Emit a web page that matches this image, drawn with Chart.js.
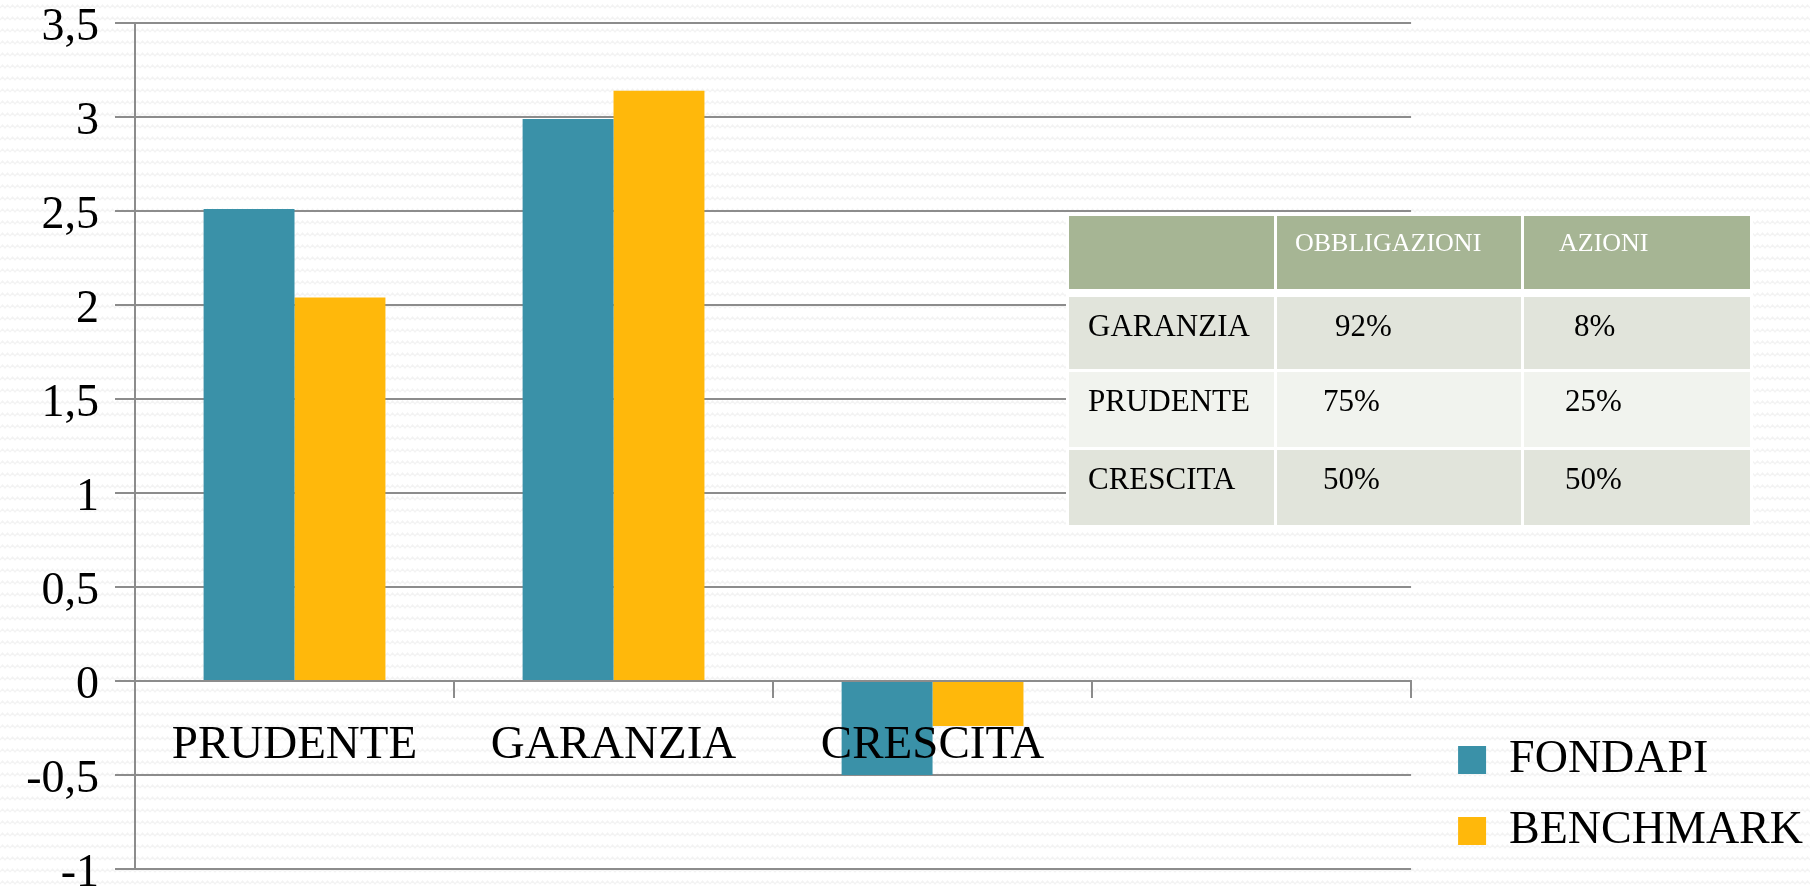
<!DOCTYPE html>
<html>
<head>
<meta charset="utf-8">
<script src="https://cdn.jsdelivr.net/npm/chart.js@4.4.1/dist/chart.umd.min.js"></script>
<style>
  html, body { margin: 0; padding: 0; }
  body {
    width: 1810px; height: 887px; overflow: hidden; position: relative;
    background-color: #ffffff;
    background-image: url("data:image/svg+xml;utf8,<svg xmlns='http://www.w3.org/2000/svg' width='10' height='12'><polyline points='0,8 2.5,5 5,8 7.5,5 10,8' fill='none' stroke='%23f3f3f3' stroke-width='1.2'/></svg>");
  }
  #chart { position: absolute; left: 0; top: 0; }
  #mix {
    position: absolute; left: 1066px; top: 213px;
    border-collapse: collapse; font-family: "Liberation Serif", serif;
  }
  #mix td { border: 3px solid #ffffff; vertical-align: top; padding: 0; box-sizing: border-box; }
  #mix tr.head td { background: #a6b594; color: #ffffff; font-size: 26px; height: 78px; padding-top: 12px; border-bottom-width: 8px; }
  #mix tr.r1 td { background: #e1e4db; }
  #mix tr.r2 td { background: #f1f3ee; }
  #mix tr.body td { font-size: 31px; color: #000; height: 78px; padding-top: 11px; }
</style>
</head>
<body>
<canvas id="chart" width="1810" height="887"></canvas>
<table id="mix"></table>
<script>
// chart data
const categories = ["PRUDENTE", "GARANZIA", "CRESCITA", ""];
const fondapi = [2.51, 2.99, -0.5, null];
const benchmark = [2.04, 3.14, -0.24, null];
const seriesNames = ["FONDAPI", "BENCHMARK"];
const yTickValues = [-1, -0.5, 0, 0.5, 1, 1.5, 2, 2.5, 3, 3.5];

// allocation table
const tableHeader = ["", "OBBLIGAZIONI", "AZIONI"];
const tableRows = [
  ["GARANZIA", "92%", "8%"],
  ["PRUDENTE", "75%", "25%"],
  ["CRESCITA", "50%", "50%"]
];

const colWidths = [208, 247, 229];
// left indents of the text in each cell (header first)
const cellIndent = [[19, 18, 35], [19, 58, 50], [19, 46, 41], [19, 46, 41]];

function renderTable() {
  const table = document.getElementById("mix");
  const head = document.createElement("tr");
  head.className = "head";
  tableHeader.forEach((txt, i) => {
    const td = document.createElement("td");
    td.style.width = colWidths[i] + "px";
    td.style.paddingLeft = cellIndent[0][i] + "px";
    td.textContent = txt;
    head.appendChild(td);
  });
  table.appendChild(head);
  tableRows.forEach((row, r) => {
    const tr = document.createElement("tr");
    tr.className = "body " + (r % 2 === 0 ? "r1" : "r2");
    row.forEach((txt, i) => {
      const td = document.createElement("td");
      td.style.width = colWidths[i] + "px";
      td.style.paddingLeft = cellIndent[r + 1][i] + "px";
      td.textContent = txt;
      tr.appendChild(td);
    });
    table.appendChild(tr);
  });
}

// nudge the legend block to where it sits in the slide
const legendShift = {
  id: "legendShift",
  afterUpdate(chart) {
    const lg = chart.legend;
    lg.left += 22; lg.right += 22;
    lg.top += 10; lg.bottom += 10;
    lg.adjustHitBoxes();
  }
};

function renderChart() {
  const gridColor = "#8c8c8c";
  const serif = "Liberation Serif";
  const ctx = document.getElementById("chart").getContext("2d");
  new Chart(ctx, {
    type: "bar",
    data: {
      labels: categories,
      datasets: [
        { label: seriesNames[0], data: fondapi, backgroundColor: "#3a91a8" },
        { label: seriesNames[1], data: benchmark, backgroundColor: "#ffb80b" }
      ]
    },
    options: {
      responsive: false,
      animation: false,
      layout: { padding: { top: 23, bottom: 18, left: 0, right: 19 } },
      categoryPercentage: 0.57,
      barPercentage: 1.0,
      plugins: {
        tooltip: { enabled: false },
        legend: {
          position: "right",
          align: "end",
          labels: {
            color: "#000",
            boxWidth: 28,
            boxHeight: 28,
            padding: 25,
            font: { family: serif, size: 46, lineHeight: 1 }
          }
        }
      },
      scales: {
        x: {
          position: { y: 0 },
          grid: { drawOnChartArea: false, drawTicks: true, tickLength: 16, color: gridColor, lineWidth: 2, offset: true },
          border: { display: true, color: gridColor, width: 2 },
          ticks: {
            z: 1,
            color: "#000",
            padding: 25,
            maxRotation: 0,
            autoSkip: false,
            font: { family: serif, size: 47, lineHeight: 1 }
          }
        },
        y: {
          min: -1,
          max: 3.5,
          afterBuildTicks: scale => { scale.ticks = yTickValues.map(v => ({ value: v })); },
          afterFit: scale => { scale.width = 135; scale.paddingTop = 0; scale.paddingBottom = 0; },
          grid: { color: gridColor, lineWidth: 2, tickLength: 20 },
          border: { display: true, color: gridColor, width: 2 },
          ticks: {
            color: "#000",
            padding: 16,
            labelOffset: 5,
            font: { family: serif, size: 46, lineHeight: 1 },
            callback: v => String(v).replace(".", ",")
          }
        }
      }
    },
    plugins: [legendShift]
  });
}

document.addEventListener("DOMContentLoaded", () => {
  renderTable();
  renderChart();
});
</script>
</body>
</html>
